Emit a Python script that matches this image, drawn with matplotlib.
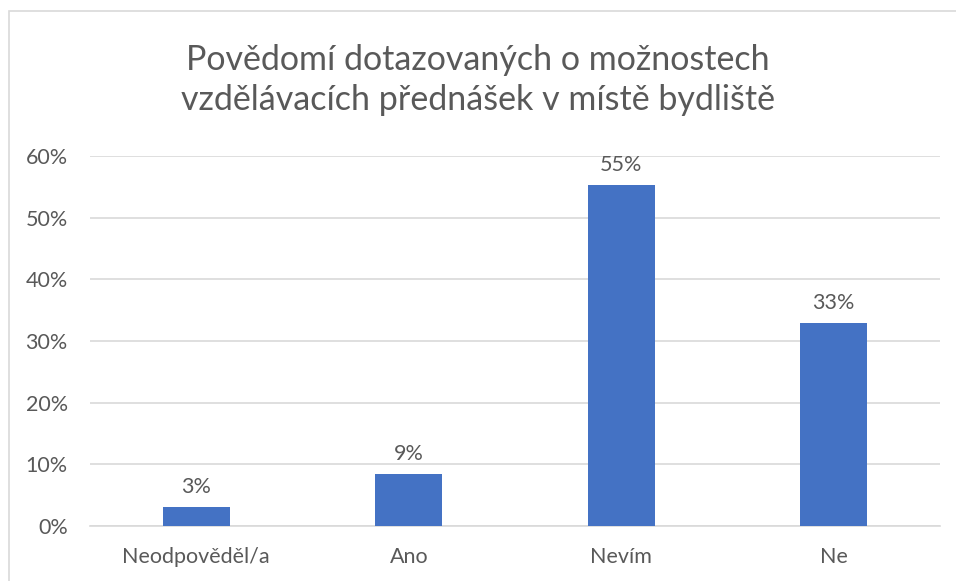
import matplotlib.pyplot as plt
from matplotlib.patches import Rectangle
from matplotlib.ticker import FuncFormatter

categories = ["Neodpověděl/a", "Ano", "Nevím", "Ne"]
values = [3.1, 8.5, 55.3, 32.9]
labels = ["3%", "9%", "55%", "33%"]
title = "Povědomí dotazovaných o možnostech\nvzdělávacích přednášek v místě bydliště"

text_color = "#595959"
bar_color = "#4472C4"
grid_color = "#D9D9D9"

plt.rcParams["font.family"] = ["Lato", "DejaVu Sans"]

fig = plt.figure(figsize=(9.56, 5.81), dpi=100)
# chart frame like the spreadsheet chart area
fig.patches.append(Rectangle((9 / 956, -0.01), 1.0, 1 - 11 / 581 + 0.01,
                             transform=fig.transFigure, fill=False,
                             edgecolor="#D9D9D9", linewidth=1.2))

ax = fig.add_axes([90 / 956, 1 - 526 / 581, 850 / 956, 370 / 581])
x = range(len(categories))
ax.bar(x, values, width=0.315, color=bar_color, zorder=3)
for xi, v, lab in zip(x, values, labels):
    ax.text(xi, v + 1.6, lab, ha="center", va="bottom", fontsize=15.5,
            color=text_color)

ax.set_xlim(-0.5, len(categories) - 0.5)
ax.set_ylim(0, 60)
ax.set_yticks(range(0, 61, 10))
ax.yaxis.set_major_formatter(FuncFormatter(lambda v, p: f"{v:.0f}%"))
ax.set_xticks(list(x))
ax.set_xticklabels(categories)
ax.tick_params(axis="both", length=0, labelsize=15.5, colors=text_color)
ax.tick_params(axis="y", pad=16)
ax.tick_params(axis="x", pad=15)
ax.grid(axis="y", color=grid_color, linewidth=1.2, zorder=0)
for s in ["top", "right", "left"]:
    ax.spines[s].set_visible(False)
ax.spines["bottom"].set_color(grid_color)
ax.spines["bottom"].set_linewidth(1.2)

fig.text(0.5, 1 - 80 / 581, title, ha="center", va="center", fontsize=24.5,
         color=text_color, linespacing=1.3)

fig.savefig("out.png", dpi=100)
